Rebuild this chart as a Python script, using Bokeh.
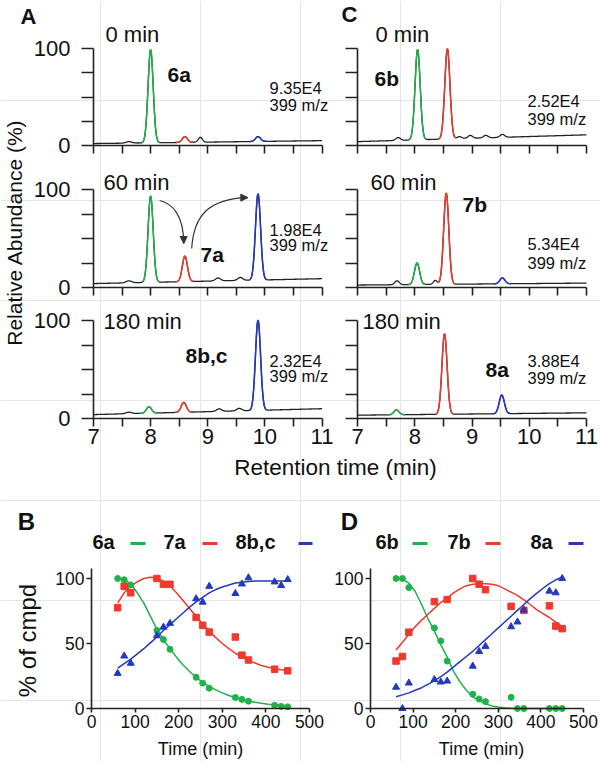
import numpy as np
from bokeh.plotting import figure
from bokeh.models import Range1d, FixedTicker, Label, Arrow, NormalHead, LinearAxis
from bokeh.embed import file_html
from bokeh.resources import INLINE

FONT = "Liberation Sans"
GREEN = "#1fb24a"
RED = "#ee3a2c"
BLUE = "#2438c0"
BLACK = "#222222"
COL = {"g": GREEN, "r": RED, "b": BLUE, "k": BLACK}

# ---------------- chromatogram data (retention time, height %, sigma, colour) ----------------
A0_rt = [7.62, 8.00, 8.60, 8.87, 9.88]
A0_h = [1.5, 96, 6, 5, 5]
A0_w = [0.05, 0.045, 0.045, 0.035, 0.045]
A0_c = ["k", "g", "r", "k", "b"]
A0_base = [2, 5]

A60_rt = [7.62, 8.00, 8.60, 9.18, 9.57, 9.88]
A60_h = [2, 88, 26, 3, 3, 88]
A60_w = [0.05, 0.045, 0.045, 0.045, 0.045, 0.045]
A60_c = ["k", "g", "r", "k", "k", "b"]
A60_base = [4, 9]

A180_rt = [7.62, 7.97, 8.58, 9.20, 9.55, 9.88]
A180_h = [1.5, 6.5, 10, 2.5, 2.5, 92]
A180_w = [0.05, 0.045, 0.045, 0.045, 0.045, 0.045]
A180_c = ["k", "g", "r", "k", "k", "b"]
A180_base = [4, 10]

C0_rt = [7.71, 8.05, 8.57, 8.78, 8.97, 9.24, 9.53]
C0_h = [3, 93, 93, 2, 3, 2.5, 3]
C0_w = [0.04, 0.045, 0.045, 0.04, 0.04, 0.04, 0.04]
C0_c = ["k", "g", "r", "k", "k", "k", "k"]
C0_base = [4, 11]

C60_rt = [7.69, 8.04, 8.36, 8.55, 9.53]
C60_h = [4, 22, 4, 93, 6]
C60_w = [0.04, 0.045, 0.035, 0.045, 0.045]
C60_c = ["k", "g", "k", "r", "b"]
C60_base = [2.5, 4.5]

C180_rt = [7.68, 8.52, 9.52]
C180_h = [5, 82, 19]
C180_w = [0.045, 0.045, 0.045]
C180_c = ["g", "r", "b"]
C180_base = [3.4, 5.8]

# ---------------- kinetics data ----------------
t_B = [60, 75, 90, 150, 165, 180, 240, 255, 270, 330, 345, 360, 420, 435, 450]
green_B = [100, 99, 95, 60, 53, 45.5, 24, 19.5, 15.6, 8.5, 7, 5.6, 2.5, 1.6, 1.3]
t_red_B = [60, 75, 90, 150, 165, 180, 240, 255, 270, 330, 345, 360, 420, 450]
red_B = [77.5, 94, 89, 100, 95.5, 95.5, 70, 64, 58.8, 55, 41, 37.3, 30.2, 29]
blue_B = [27, 40.4, 34.8, 56, 62.6, 65.5, 84.4, 81.8, 94, 88.5, 95.8, 100.5, 97.4, 94.6, 99.2]

t_D = [60, 75, 90, 150, 165, 180, 240, 255, 270, 330, 345, 360, 420, 435, 450]
green_D = [100, 100, 93, 62, 52, 36.5, 11, 7.3, 5.3, 8.6, 0, 0, 0, 0, 0]
t_red_D = [60, 75, 90, 150, 180, 240, 255, 270, 330, 360, 420, 435, 450]
red_D = [36.5, 40, 58.7, 82.2, 83.8, 100, 95.6, 91.4, 78.6, 75.5, 79, 63.4, 61.4]
blue_D = [16.4, 0, 19.6, 22.2, 20.4, 21.1, 32.6, 43.9, 47.8, 62.9, 66.6, 75.7, 90.3, 89, 100]

t_fit = [60, 75, 90, 105, 120, 135, 150, 165, 180, 195, 210, 225, 240, 255, 270,
         285, 300, 315, 330, 345, 360, 375, 390, 405, 420, 435, 450]
green_fit_B = [100, 99, 96, 89, 81, 71, 61, 53, 46, 39.5, 33.5, 28.5, 24, 20, 17,
               14.3, 12, 10, 8.4, 7, 5.8, 4.8, 4, 3.3, 2.8, 2.3, 2]
red_fit_B = [81, 89, 94, 97.5, 100, 101, 100.5, 98, 94.5, 89, 83, 77, 71, 65, 59.5,
             54.5, 50, 46, 42.5, 39.5, 37, 35, 33, 31.8, 30.8, 29.8, 29]
blue_fit_B = [31, 34.5, 38, 42, 46, 50.5, 55, 60, 64.5, 69, 73.5, 78, 82, 85.5, 89,
              91.5, 93.5, 95, 96.5, 97.2, 97.6, 98, 98, 98, 98, 98, 98]
green_fit_D = [100, 99.5, 96.5, 90, 80, 69, 59.5, 49, 39.5, 28.5, 20.5, 14, 9, 6, 3.5,
               2, 1.2, 0.5, 0.2, 0, 0, 0, 0, 0, 0, 0, 0]
red_fit_D = [45, 51, 57, 63, 68, 72.5, 77, 81.5, 85, 89, 92, 94.5, 95.5, 96, 96,
             95.5, 94.5, 92, 89.5, 87, 83.5, 80, 76, 73, 70, 66.5, 63]
blue_fit_D = [9, 10.5, 12, 14, 16, 18.5, 21.5, 24.5, 28, 32, 36, 40, 44, 48.5, 53,
              57.5, 62, 66.5, 71, 75.5, 80, 84.5, 88.5, 92.5, 96, 99, 101]

rt_grid = np.linspace(7, 11, 801)

# ---------------- layout helpers (page pixel placement of each panel) ----------------
X0, X1 = 0, 600     # canvas in page pixels (left, right)
Y0, Y1 = 0, 761     # canvas in page pixels (top, bottom)


def rng(v0, v1, p0, p1, P0, P1):
    k = (v1 - v0) / (p1 - p0)
    return Range1d(start=v0 + (P0 - p0) * k, end=v0 + (P1 - p0) * k)


p = figure(width=X1 - X0, height=Y1 - Y0, x_range=Range1d(X0, X1), y_range=Range1d(Y1, Y0),
           output_backend="svg", toolbar_location=None, title=None,
           x_axis_location=None, y_axis_location=None, min_border=0)
p.outline_line_color = None
p.background_fill_color = "white"
p.border_fill_color = "white"

p.extra_x_ranges = {
    "rtA": rng(7, 11, 93, 321.5, X0, X1),
    "rtC": rng(7, 11, 357, 586, X0, X1),
    "tB": rng(0, 500, 91, 309, X0, X1),
    "tD": rng(0, 500, 370, 583, X0, X1),
}
p.extra_y_ranges = {
    "top": rng(0, 100, 145, 48, Y1, Y0),
    "mid": rng(0, 100, 287, 189, Y1, Y0),
    "bot": rng(0, 100, 418, 320, Y1, Y0),
    "kin": rng(0, 100, 708, 578, Y1, Y0),
}


def style_axis(ax, tick_out, standoff, font_size):
    ax.axis_line_color = BLACK
    ax.axis_line_width = 1.6
    ax.major_tick_line_color = BLACK
    ax.major_tick_line_width = 1.6
    ax.minor_tick_line_color = BLACK
    ax.minor_tick_line_width = 1.6
    ax.major_tick_out = tick_out
    ax.major_tick_in = 0
    ax.minor_tick_out = tick_out
    ax.minor_tick_in = 0
    ax.major_label_standoff = standoff
    ax.major_label_text_font = FONT
    ax.major_label_text_font_size = font_size
    ax.major_label_text_color = "#111111"


def chrom(xr, yr, rts, hs, ws, cs, base, show_x, show_y):
    if show_x:
        xt = FixedTicker(ticks=[7, 8, 9, 10, 11], minor_ticks=[7.5, 8.5, 9.5, 10.5])
    else:
        xt = FixedTicker(ticks=[], minor_ticks=[7, 7.5, 8, 8.5, 9, 9.5, 10, 10.5, 11])
    if show_y:
        yt = FixedTicker(ticks=[0, 100], minor_ticks=[25, 50, 75])
    else:
        yt = FixedTicker(ticks=[], minor_ticks=[0, 25, 50, 75, 100])
    xa = LinearAxis(x_range_name=xr, y_range_name=yr, fixed_location=0, bounds=(7, 11), ticker=xt)
    ya = LinearAxis(x_range_name=xr, y_range_name=yr, fixed_location=7, bounds=(0, 100), ticker=yt)
    style_axis(xa, 8, 2, "22px")
    style_axis(ya, 12, 11, "22px")
    p.add_layout(xa, "below")
    p.add_layout(ya, "left")
    y = base[0] + (base[1] - base[0]) * (rt_grid - 7) / 4.0
    for r0, h0, w0 in zip(rts, hs, ws):
        y = y + h0 * np.exp(-0.5 * ((rt_grid - r0) / w0) ** 2)
    p.line(rt_grid, y, line_color=BLACK, line_width=1.3, x_range_name=xr, y_range_name=yr)
    for r0, c0 in zip(rts, cs):
        if c0 != "k":
            m = np.abs(rt_grid - r0) <= 0.155
            p.line(rt_grid[m], y[m], line_color=COL[c0], line_width=1.5,
                   x_range_name=xr, y_range_name=yr)


chrom("rtA", "top", A0_rt, A0_h, A0_w, A0_c, A0_base, False, True)
chrom("rtA", "mid", A60_rt, A60_h, A60_w, A60_c, A60_base, False, True)
chrom("rtA", "bot", A180_rt, A180_h, A180_w, A180_c, A180_base, True, True)
chrom("rtC", "top", C0_rt, C0_h, C0_w, C0_c, C0_base, False, False)
chrom("rtC", "mid", C60_rt, C60_h, C60_w, C60_c, C60_base, False, False)
chrom("rtC", "bot", C180_rt, C180_h, C180_w, C180_c, C180_base, True, False)

# curved arrows in A (60 min)
arrow_x0 = [8.158, 8.719]
arrow_y0 = [88.8, 39.8]
arrow_cx0 = [8.386, 8.754]
arrow_cy0 = [85.7, 73.5]
arrow_cx1 = [8.579, 9.018]
arrow_cy1 = [73.5, 90.8]
arrow_x1 = [8.579, 9.702]
arrow_y1 = [44.9, 91.8]
p.bezier(x0=arrow_x0, y0=arrow_y0, x1=arrow_x1, y1=arrow_y1, cx0=arrow_cx0, cy0=arrow_cy0,
         cx1=arrow_cx1, cy1=arrow_cy1, line_color="#333333", line_width=1.2,
         x_range_name="rtA", y_range_name="mid")
p.add_layout(Arrow(end=NormalHead(size=7, fill_color="#333333", line_color="#333333"),
                   x_start=8.579, y_start=52, x_end=8.579, y_end=44.9,
                   line_color="#333333", line_width=1.2, x_range_name="rtA", y_range_name="mid"))
p.add_layout(Arrow(end=NormalHead(size=7, fill_color="#333333", line_color="#333333"),
                   x_start=9.60, y_start=91.7, x_end=9.702, y_end=91.8,
                   line_color="#333333", line_width=1.2, x_range_name="rtA", y_range_name="mid"))

# ---------------- kinetics panels ----------------
for xr, gf, rf, bf, tg, g, tr, r, b, show_y in (
        ("tB", green_fit_B, red_fit_B, blue_fit_B, t_B, green_B, t_red_B, red_B, blue_B, True),
        ("tD", green_fit_D, red_fit_D, blue_fit_D, t_D, green_D, t_red_D, red_D, blue_D, False)):
    xa = LinearAxis(x_range_name=xr, y_range_name="kin", fixed_location=0, bounds=(0, 500),
                    ticker=FixedTicker(ticks=[0, 100, 200, 300, 400, 500]))
    ya = LinearAxis(x_range_name=xr, y_range_name="kin", fixed_location=0, bounds=(0, 108),
                    ticker=FixedTicker(ticks=[0, 50, 100]))
    style_axis(xa, 4, 2, "17.5px")
    style_axis(ya, 5, 2, "17.5px")
    p.add_layout(xa, "below")
    p.add_layout(ya, "left")
    kw = dict(x_range_name=xr, y_range_name="kin")
    p.line(t_fit, gf, line_color=GREEN, line_width=1.5, **kw)
    p.line(t_fit, rf, line_color=RED, line_width=1.5, **kw)
    p.line(t_fit, bf, line_color=BLUE, line_width=1.5, **kw)
    p.scatter(tg, g, marker="circle", size=6, color=GREEN, **kw)
    p.scatter(tr, r, marker="square", size=6.5, color=RED, **kw)
    p.scatter(tg, b, marker="triangle", size=7, color=BLUE, **kw)


# ---------------- texts (page-pixel placement, y = visual centre of the glyphs) ----------------
def lab(x, y, text, size, bold=False, align="left", angle=0.0):
    p.add_layout(Label(x=x, y=y, text=text, text_font=FONT, text_font_size=size,
                       text_font_style="bold" if bold else "normal",
                       text_align=align, text_baseline="middle", angle=angle,
                       text_color="#111111"))


# panel letters
lab(28, 15.5, "A", "22px", bold=True, align="center")
lab(349, 14, "C", "22px", bold=True, align="center")
lab(26, 521, "B", "24px", bold=True, align="center")
lab(349, 521, "D", "24px", bold=True, align="center")

# panel A texts
lab(105, 34, "0 min", "22px")
lab(167, 73.5, "6a", "21px", bold=True)
lab(269, 87.5, "9.35E4", "16.5px")
lab(269, 104, "399 m/z", "16.5px")
lab(103, 182, "60 min", "22px")
lab(200, 254, "7a", "21px", bold=True)
lab(269, 229.5, "1.98E4", "16.5px")
lab(269, 244, "399 m/z", "16.5px")
lab(103, 321, "180 min", "22px")
lab(185, 355, "8b,c", "21px", bold=True)
lab(269, 360, "2.32E4", "16.5px")
lab(269, 375, "399 m/z", "16.5px")

# panel C texts
lab(375, 34, "0 min", "22px")
lab(374, 77.5, "6b", "21px", bold=True)
lab(527, 100, "2.52E4", "16.5px")
lab(527, 118, "399 m/z", "16.5px")
lab(370, 181.5, "60 min", "22px")
lab(462, 204, "7b", "21px", bold=True)
lab(527, 243.5, "5.34E4", "16.5px")
lab(527, 262, "399 m/z", "16.5px")
lab(362, 321, "180 min", "22px")
lab(485, 369, "8a", "21px", bold=True)
lab(527, 360, "3.88E4", "16.5px")
lab(527, 377.5, "399 m/z", "16.5px")

# shared axis titles
lab(14, 232, "Relative Abundance (%)", "21px", align="center", angle=np.pi / 2)
lab(335, 467, "Retention time (min)", "22.5px", align="center")
lab(27, 640, "% of cmpd", "24px", align="center", angle=np.pi / 2)
lab(200, 748, "Time (min)", "18px", align="center")
lab(481, 748, "Time (min)", "18px", align="center")

# legends of B and D
lab(92, 541.5, "6a", "20px", bold=True)
lab(163, 541.5, "7a", "20px", bold=True)
lab(235, 541.5, "8b,c", "20px", bold=True)
lab(375, 541.5, "6b", "20px", bold=True)
lab(447, 541.5, "7b", "20px", bold=True)
lab(530, 541.5, "8a", "20px", bold=True)
key_x0 = [130, 202, 298, 412, 485, 568]
key_x1 = [145, 217, 312, 427, 500, 583]
key_col = [GREEN, RED, BLUE, GREEN, RED, BLUE]
for x0, x1, c in zip(key_x0, key_x1, key_col):
    p.add_layout(Arrow(end=None, x_start=x0, y_start=543, x_end=x1, y_end=543,
                       line_color=c, line_width=3))

open("out.html", "w").write(file_html(p, INLINE))
